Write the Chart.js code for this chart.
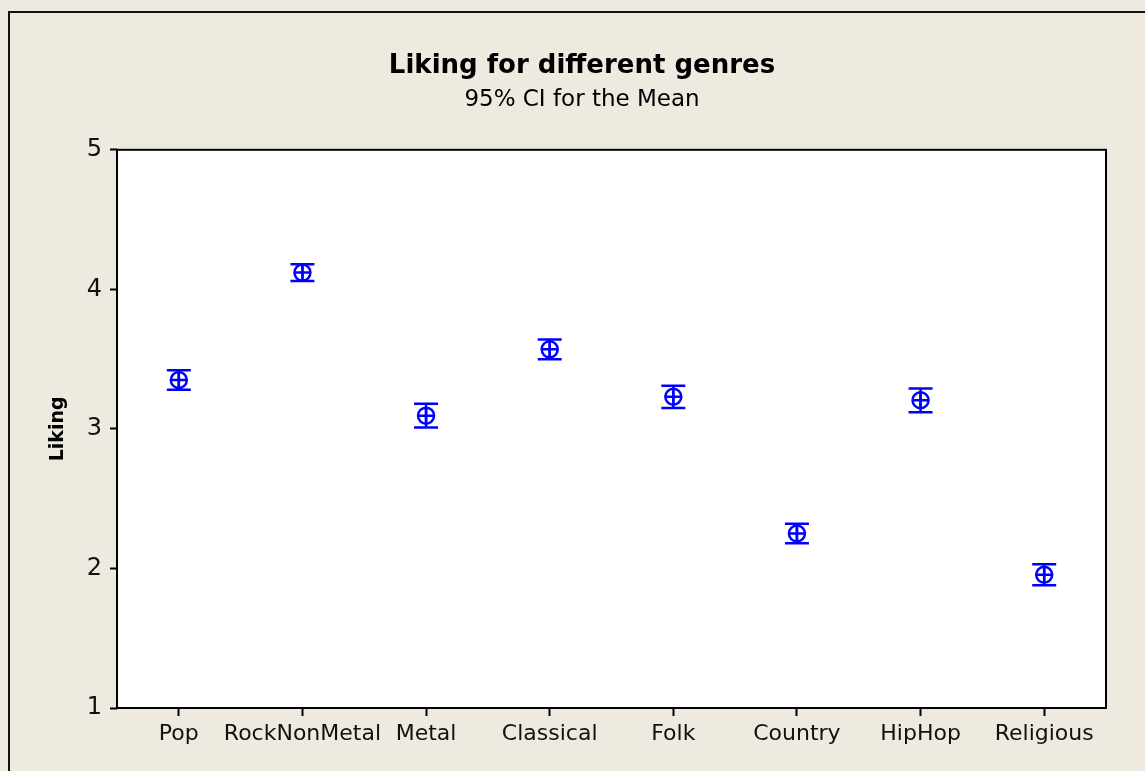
<!DOCTYPE html>
<html>
<head>
<meta charset="utf-8">
<script src="https://cdn.jsdelivr.net/npm/chart.js@4/dist/chart.umd.min.js"></script>
<style>
  html, body { margin: 0; padding: 0; background: #eeeae0; overflow: hidden; }
  #wrap { position: relative; width: 1145px; height: 771px; }
</style>
</head>
<body>
<div id="wrap"><canvas id="intervalChart" width="1145" height="771"></canvas></div>
<script>
// Data
const genres = ['Pop', 'RockNonMetal', 'Metal', 'Classical', 'Folk', 'Country', 'HipHop', 'Religious'];
const means = [3.35, 4.12, 3.095, 3.57, 3.23, 2.25, 3.205, 1.955];
const lowerCI = [3.28, 4.06, 3.01, 3.50, 3.15, 2.18, 3.12, 1.88];
const upperCI = [3.42, 4.18, 3.18, 3.64, 3.31, 2.32, 3.29, 2.03];
const yTicks = [1, 2, 3, 4, 5];

const blue = '#0000ff';
Chart.defaults.font.family = "'DejaVu Sans', sans-serif";
Chart.defaults.color = '#000';

// background, frame and plot box
const framePlugin = {
    id: 'frame',
    beforeDraw(chart) {
        const c = chart.ctx, a = chart.chartArea;
        c.save();
        c.fillStyle = '#eeeae0';
        c.fillRect(0, 0, chart.width, chart.height);
        c.strokeStyle = '#111';
        c.lineWidth = 2;
        c.beginPath();
        c.moveTo(9, chart.height);
        c.lineTo(9, 12);
        c.lineTo(chart.width, 12);
        c.stroke();
        c.fillStyle = '#ffffff';
        c.fillRect(a.left, a.top, a.right - a.left, a.bottom - a.top);
        c.restore();
    },
    afterDraw(chart) {
        const c = chart.ctx, a = chart.chartArea;
        c.save();
        c.strokeStyle = '#000';
        c.lineWidth = 2;
        c.strokeRect(a.left, a.top, a.right - a.left, a.bottom - a.top);
        c.restore();
    }
};

// CI whiskers drawn through the chart's scales
const errorBarPlugin = {
    id: 'errorBars',
    afterDatasetsDraw(chart) {
        const c = chart.ctx;
        const xs = chart.scales.x, ys = chart.scales.y;
        c.save();
        c.strokeStyle = blue;
        c.lineWidth = 2.5;
        genres.forEach((g, i) => {
            const x = xs.getPixelForValue(i);
            const yl = ys.getPixelForValue(lowerCI[i]);
            const yh = ys.getPixelForValue(upperCI[i]);
            c.beginPath();
            c.moveTo(x, yl); c.lineTo(x, yh);
            c.moveTo(x - 12, yl); c.lineTo(x + 12, yl);
            c.moveTo(x - 12, yh); c.lineTo(x + 12, yh);
            c.stroke();
        });
        c.restore();
    }
};

const ctx = document.getElementById('intervalChart').getContext('2d');
new Chart(ctx, {
    type: 'line',
    data: {
        labels: genres,
        datasets: [
            {
                data: means, showLine: false, pointStyle: 'circle', pointRadius: 8,
                pointBorderWidth: 2.5, pointBorderColor: blue, pointBackgroundColor: 'rgba(0,0,0,0)'
            },
            {
                data: means, showLine: false, pointStyle: 'cross', pointRadius: 8,
                pointBorderWidth: 2.5, pointBorderColor: blue
            }
        ]
    },
    options: {
        responsive: false,
        animation: false,
        layout: { padding: { left: 58, right: 39, top: 0, bottom: 0 } },
        plugins: {
            legend: { display: false },
            tooltip: { enabled: false },
            title: {
                display: true, text: 'Liking for different genres', color: '#000',
                font: { size: 26, weight: 'bold' }, padding: { top: 51, bottom: 0 }
            },
            subtitle: {
                display: true, text: '95% CI for the Mean', color: '#000',
                font: { size: 23 }, padding: { top: 4, bottom: 36 }
            }
        },
        scales: {
            x: {
                type: 'category',
                offset: true,
                border: { display: false },
                grid: { display: true, drawOnChartArea: false, offset: false, tickLength: 8, tickColor: '#000', tickWidth: 2 },
                ticks: { font: { size: 22 }, color: '#111', padding: 5, maxRotation: 0, autoSkip: false },
                afterFit(scale) { scale.height = 63; }
            },
            y: {
                min: 1, max: 5,
                border: { display: false },
                grid: { display: true, drawOnChartArea: false, tickLength: 7, tickColor: '#000', tickWidth: 2 },
                afterBuildTicks(scale) { scale.ticks = yTicks.map(v => ({ value: v })); },
                ticks: { font: { size: 24 }, color: '#111', padding: 8 },
                title: {
                    display: true, text: 'Liking', color: '#000',
                    font: { size: 19, weight: 'bold' }, padding: { top: -11, bottom: 0 }
                },
                afterFit(scale) { scale.width = 59; }
            }
        }
    },
    plugins: [framePlugin, errorBarPlugin]
});
</script>
</body>
</html>
